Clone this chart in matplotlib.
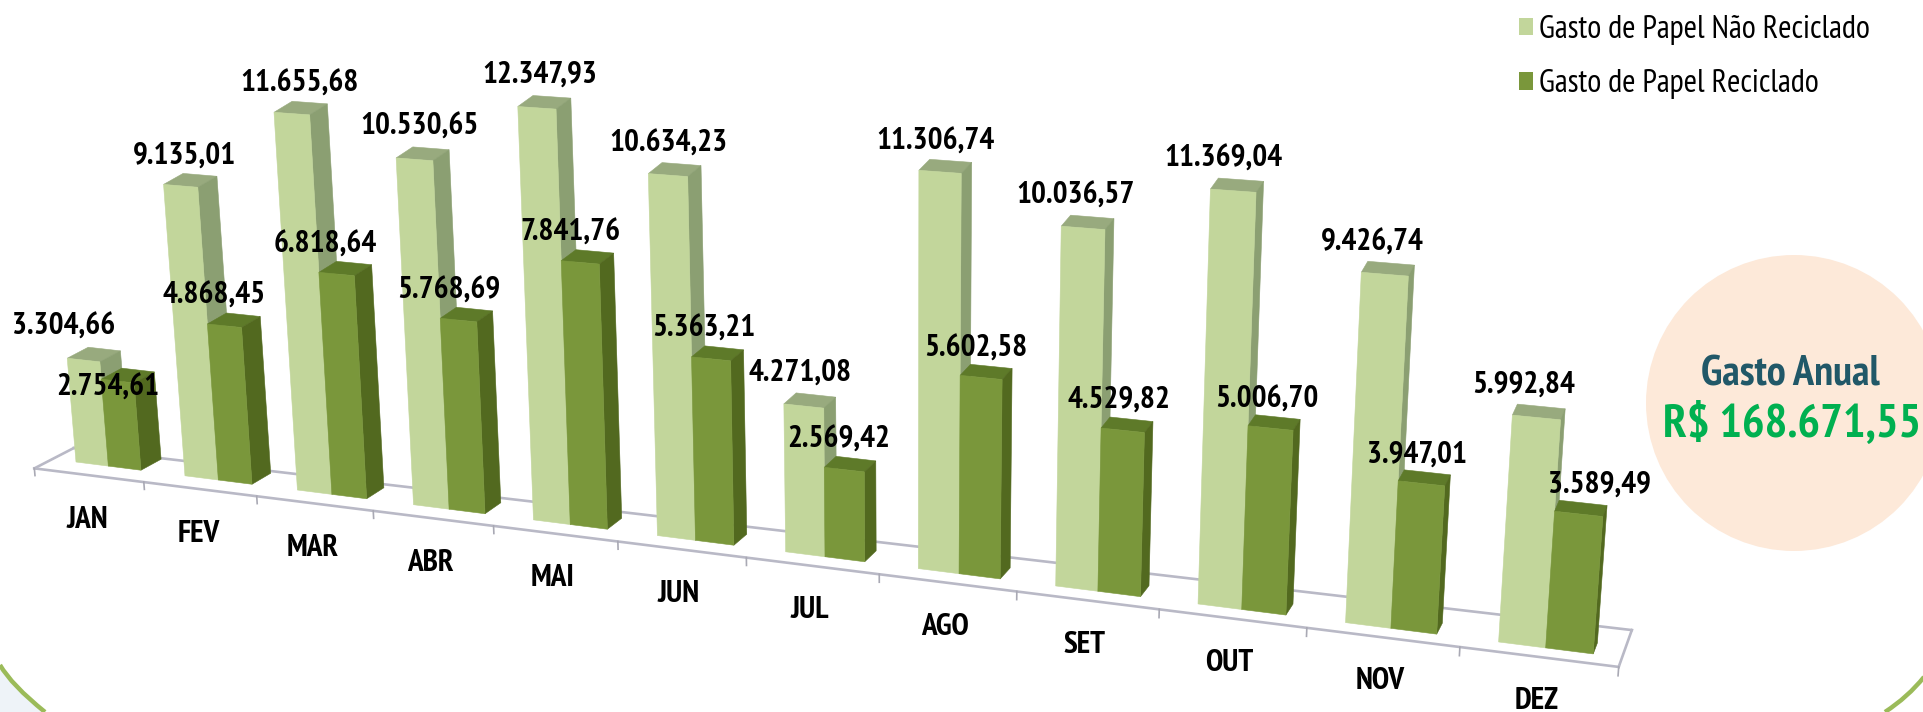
import numpy as np
import matplotlib
matplotlib.use("Agg")
import matplotlib.pyplot as plt
from matplotlib.patches import Polygon, Circle, PathPatch, Patch
from matplotlib.path import Path
from matplotlib.transforms import Transform

months = ["JAN", "FEV", "MAR", "ABR", "MAI", "JUN", "JUL", "AGO", "SET", "OUT", "NOV", "DEZ"]
nao_reciclado = [3304.66, 9135.01, 11655.68, 10530.65, 12347.93, 10634.23,
                 4271.08, 11306.74, 10036.57, 11369.04, 9426.74, 5992.84]
reciclado = [2754.61, 4868.45, 6818.64, 5768.69, 7841.76, 5363.21,
             2569.42, 5602.58, 4529.82, 5006.70, 3947.01, 3589.49]
series_names = ["Gasto de Papel Não Reciclado", "Gasto de Papel Reciclado"]
total_title = "Gasto Anual"
total_value = "R$ 168.671,55"

# hand placement of the value labels, in pixels from each bar's front top-left corner
light_dx = [-4, 21, 26, 23, 22, 20, 16, 17, 14, 13, 11, 11]
light_dy = [32, 29, 29, 31, 32, 30, 31, 29, 31, 30, 30, 30]
dark_dx = [7, 7, 6, 9, 9, 12, 14, 16, 18, 19, 19, 45]
dark_dy = [-8, 28, 28, 28, 28, 28, 28, 27, 28, 26, 26, 27]

W, H = 1924, 712
BAR_W = 0.30
FONT = ["PT Sans Narrow", "Roboto Condensed", "Barlow Condensed", "DejaVu Sans"]
C_LIGHT = ("#c2d69b", "#8b9f72", "#98aa7e")
C_DARK = ("#7a973b", "#52691f", "#5e7a29")
C_FLOOR = "#b9b9c6"


class Projection(Transform):
    """Perspective of the tilted chart: (category position, value) to image pixels."""
    input_dims = 2
    output_dims = 2

    def __init__(self, offset=0.0):
        super().__init__()
        self.offset = offset

    def transform_non_affine(self, pts):
        pts = np.asarray(pts, float)
        u, v = pts[:, 0], pts[:, 1]
        w = 1 - 0.0155 * u
        bx = (106.1 * u + 76) / w
        by = (6.41 * u + 462) / w
        s = 0.0314 / w
        d = self.offset(u) if callable(self.offset) else self.offset
        x = bx + (bx - 905) * s * v / 9800 + d * (21 - 1.45 * u)
        y = by - s * v - d * 11
        return np.column_stack([x, y])


front = Projection(0.0)
back = Projection(1.0)

fig = plt.figure(figsize=(W / 100, H / 100), dpi=100, facecolor="white")
ax = fig.add_axes([0, 0, 1, 1])
ax.set_xlim(0, W)
ax.set_ylim(H, 0)
ax.axis("off")

# decorative frame corners
pale = Path([(0, 665), (11.5, 685), (45, 712), (0, 712), (0, 665)],
            [Path.MOVETO, Path.CURVE3, Path.CURVE3, Path.LINETO, Path.CLOSEPOLY])
ax.add_patch(PathPatch(pale, fc="#eef3f8", ec="none", zorder=0))
for p in ([(0, 665), (11.5, 685), (45, 712)], [(1885, 712), (1908, 697), (1924, 677)]):
    ax.add_patch(PathPatch(Path(p, [Path.MOVETO, Path.CURVE3, Path.CURVE3]),
                           fc="none", ec="#9bbb59", lw=3.2, zorder=0.5))

# floor
U0, U1 = -0.22, 11.78
floor_front = Projection(-0.85)
floor_back = Projection(lambda u: 1.0 + (u - U0) * 0.125)
corners = np.array([[U0, 0], [U1, 0]])
ff = floor_front.transform(corners)
fb = floor_back.transform(corners)
for a, b in ((ff[0], ff[1]), (fb[0], fb[1]), (ff[0], fb[0]), (ff[1], fb[1])):
    ax.plot([a[0], b[0]], [a[1], b[1]], color=C_FLOOR, lw=1.9, zorder=1)
for i in range(13):
    t = floor_front.transform(np.array([[U0 + i, 0], [U0 + i, -230]]))
    ax.plot(t[:, 0], t[:, 1], color="#a9a9b4", lw=1.2, zorder=1)


def bar(u0, u1, value, colors, z):
    corners = np.array([[u0, 0], [u1, 0], [u1, value], [u0, value]])
    f, b = front.transform(corners), back.transform(corners)
    faces = [([f[3], f[2], b[2], b[3]], colors[2]),
             ([f[1], b[1], b[2], f[2]], colors[1]),
             (list(f), colors[0])]
    for verts, col in faces:
        ax.add_patch(Polygon(verts, closed=True, fc=col, ec=col, lw=0.4, zorder=z))


def br(v):
    return f"{v:,.2f}".replace(",", "#").replace(".", ",").replace("#", ".")


for i in range(len(months)):
    bar(i, i + BAR_W, nao_reciclado[i], C_LIGHT, 2 + i * 0.1)
    bar(i + BAR_W, i + 2 * BAR_W, reciclado[i], C_DARK, 2.05 + i * 0.1)

LABEL_PT = 22.5
for i, m in enumerate(months):
    ax.annotate(br(nao_reciclado[i]), xy=(i, nao_reciclado[i]), xycoords=front + ax.transData,
                xytext=(light_dx[i], light_dy[i]), textcoords="offset pixels",
                ha="center", va="center", fontsize=LABEL_PT, fontweight="bold",
                family=FONT, color="black", zorder=5)
    ax.annotate(br(reciclado[i]), xy=(i + BAR_W, reciclado[i]), xycoords=front + ax.transData,
                xytext=(dark_dx[i], dark_dy[i]), textcoords="offset pixels",
                ha="center", va="center", fontsize=LABEL_PT, fontweight="bold",
                family=FONT, color="black", zorder=5)
    ax.annotate(m, xy=(i + 0.11 + 0.012 * i, 0), xycoords=front + ax.transData,
                xytext=(0, -(57 - 0.25 * i)), textcoords="offset pixels",
                ha="center", va="center", fontsize=LABEL_PT, fontweight="bold",
                family=FONT, color="black", zorder=5)

# annual total
ax.add_patch(Circle((1794, 403), 148, fc="#fde9d9", ec="none", zorder=1.5))
ax.text(1790, 375, total_title, ha="center", va="center", fontsize=30.5, fontweight="bold",
        family=FONT, color="#215868", zorder=5)
ax.text(1792, 424, total_value, ha="center", va="center", fontsize=34.2, fontweight="bold",
        family=FONT, color="#00b050", zorder=5)

# legend
handles = [Patch(fc=C_LIGHT[0], ec="none"), Patch(fc=C_DARK[0], ec="none")]
leg = ax.legend(handles, series_names, loc="upper left", bbox_to_anchor=(1509, 5),
                bbox_transform=ax.transData, frameon=False,
                prop={"family": FONT, "size": 23.2},
                handlelength=0.44, handleheight=0.44, handletextpad=0.2,
                labelspacing=0.77, borderpad=0.3, borderaxespad=0)

fig.savefig("out.png", dpi=100, facecolor="white")
